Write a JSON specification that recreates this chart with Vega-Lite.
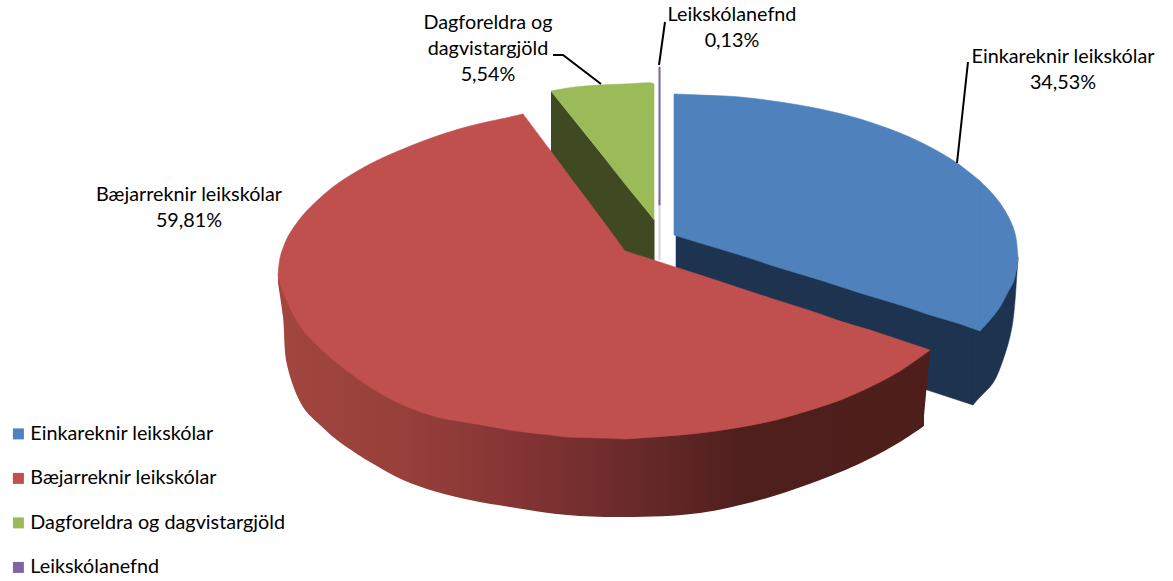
{"$schema":"https://vega.github.io/schema/vega-lite/v6.json","width":1173,"height":581,"autosize":{"type":"fit","contains":"padding"},"padding":0,"background":"white","config":{"view":{"stroke":null},"text":{"font":"Lato"}},
"datasets":{
"walls":[
{"part":"green","seg":"g","x":551,"top":91,"bottom":262},{"part":"green","seg":"g","x":654.5,"top":220,"bottom":262},
{"part":"purple","seg":"p","x":658.5,"top":200,"bottom":260},{"part":"purple","seg":"p","x":660.5,"top":200,"bottom":260},
{"part":"redend","seg":"re","x":923,"top":350,"bottom":427},{"part":"redend","seg":"re","x":930,"top":350,"bottom":350},
{"part":"blue","seg":"bl","x":676,"top":230,"bottom":308},{"part":"blue","seg":"bl","x":973,"top":320,"bottom":405},
{"part":"blue","seg":"br","x":973,"top":320,"bottom":405},{"part":"blue","seg":"br","x":980,"top":320,"bottom":397},{"part":"blue","seg":"br","x":993,"top":310,"bottom":383},{"part":"blue","seg":"br","x":1003,"top":298,"bottom":360},{"part":"blue","seg":"br","x":1012,"top":280,"bottom":327},{"part":"blue","seg":"br","x":1017,"top":268,"bottom":273},{"part":"blue","seg":"br","x":1018,"top":257,"bottom":257},
{"part":"red","seg":"r","x":278,"top":276,"bottom":283},{"part":"red","seg":"r","x":283,"top":287,"bottom":317},{"part":"red","seg":"r","x":287,"top":297,"bottom":365},{"part":"red","seg":"r","x":303,"top":327,"bottom":407},{"part":"red","seg":"r","x":320,"top":345,"bottom":425},{"part":"red","seg":"r","x":337,"top":360,"bottom":440},{"part":"red","seg":"r","x":370,"top":384,"bottom":462},{"part":"red","seg":"r","x":403,"top":402,"bottom":480},{"part":"red","seg":"r","x":437,"top":414,"bottom":492},{"part":"red","seg":"r","x":470,"top":420,"bottom":500},{"part":"red","seg":"r","x":510,"top":427,"bottom":507},{"part":"red","seg":"r","x":567,"top":434,"bottom":515},{"part":"red","seg":"r","x":625,"top":436,"bottom":517},{"part":"red","seg":"r","x":700,"top":430,"bottom":513},{"part":"red","seg":"r","x":767,"top":419,"bottom":498},{"part":"red","seg":"r","x":833,"top":400,"bottom":475},{"part":"red","seg":"r","x":867,"top":385,"bottom":460},{"part":"red","seg":"r","x":900,"top":368,"bottom":442},{"part":"red","seg":"r","x":924,"top":350,"bottom":426}
],
"faces":[
{"slice":"Dagforeldra og dagvistargjöld","seg":"g","x":551,"top":91,"bottom":91},{"slice":"Dagforeldra og dagvistargjöld","seg":"g","x":575,"top":87,"bottom":121},{"slice":"Dagforeldra og dagvistargjöld","seg":"g","x":600,"top":85,"bottom":152},{"slice":"Dagforeldra og dagvistargjöld","seg":"g","x":625,"top":84,"bottom":184},{"slice":"Dagforeldra og dagvistargjöld","seg":"g","x":652,"top":83,"bottom":217},{"slice":"Dagforeldra og dagvistargjöld","seg":"g","x":654,"top":84,"bottom":220},
{"slice":"Leikskólanefnd","seg":"p","x":658.8,"top":67,"bottom":205},{"slice":"Leikskólanefnd","seg":"p","x":660.2,"top":67,"bottom":205},
{"slice":"Einkareknir leikskólar","seg":"b1","x":674,"top":94,"bottom":235},{"slice":"Einkareknir leikskólar","seg":"b1","x":700,"top":95,"bottom":243},{"slice":"Einkareknir leikskólar","seg":"b1","x":740,"top":97,"bottom":255},{"slice":"Einkareknir leikskólar","seg":"b1","x":780,"top":102,"bottom":268},{"slice":"Einkareknir leikskólar","seg":"b1","x":820,"top":109,"bottom":280},{"slice":"Einkareknir leikskólar","seg":"b1","x":860,"top":119,"bottom":293},{"slice":"Einkareknir leikskólar","seg":"b1","x":900,"top":133,"bottom":305},{"slice":"Einkareknir leikskólar","seg":"b1","x":930,"top":147,"bottom":315},{"slice":"Einkareknir leikskólar","seg":"b1","x":957,"top":163,"bottom":323},{"slice":"Einkareknir leikskólar","seg":"b1","x":980,"top":181,"bottom":331},
{"slice":"Einkareknir leikskólar","seg":"b2","x":980,"top":181,"bottom":331},{"slice":"Einkareknir leikskólar","seg":"b2","x":990,"top":191,"bottom":320},{"slice":"Einkareknir leikskólar","seg":"b2","x":1000,"top":203,"bottom":307},{"slice":"Einkareknir leikskólar","seg":"b2","x":1008,"top":216,"bottom":292},{"slice":"Einkareknir leikskólar","seg":"b2","x":1013,"top":227,"bottom":283},{"slice":"Einkareknir leikskólar","seg":"b2","x":1016,"top":238,"bottom":272},{"slice":"Einkareknir leikskólar","seg":"b2","x":1018,"top":257,"bottom":257},
{"slice":"Bæjarreknir leikskólar","seg":"r1","x":278,"top":276,"bottom":276},{"slice":"Bæjarreknir leikskólar","seg":"r1","x":280,"top":258,"bottom":283},{"slice":"Bæjarreknir leikskólar","seg":"r1","x":285,"top":243,"bottom":297},{"slice":"Bæjarreknir leikskólar","seg":"r1","x":290,"top":233,"bottom":308},{"slice":"Bæjarreknir leikskólar","seg":"r1","x":303,"top":215,"bottom":330},{"slice":"Bæjarreknir leikskólar","seg":"r1","x":320,"top":198,"bottom":348},{"slice":"Bæjarreknir leikskólar","seg":"r1","x":337,"top":184,"bottom":363},{"slice":"Bæjarreknir leikskólar","seg":"r1","x":370,"top":164,"bottom":387},{"slice":"Bæjarreknir leikskólar","seg":"r1","x":403,"top":149,"bottom":405},{"slice":"Bæjarreknir leikskólar","seg":"r1","x":437,"top":136,"bottom":417},{"slice":"Bæjarreknir leikskólar","seg":"r1","x":470,"top":126,"bottom":423},{"slice":"Bæjarreknir leikskólar","seg":"r1","x":510,"top":117,"bottom":430},{"slice":"Bæjarreknir leikskólar","seg":"r1","x":523,"top":114,"bottom":432},
{"slice":"Bæjarreknir leikskólar","seg":"r2","x":523,"top":114,"bottom":432},{"slice":"Bæjarreknir leikskólar","seg":"r2","x":550,"top":150,"bottom":435},{"slice":"Bæjarreknir leikskólar","seg":"r2","x":567,"top":173,"bottom":437},{"slice":"Bæjarreknir leikskólar","seg":"r2","x":600,"top":217,"bottom":438},{"slice":"Bæjarreknir leikskólar","seg":"r2","x":625,"top":251,"bottom":439},
{"slice":"Bæjarreknir leikskólar","seg":"r3","x":625,"top":251,"bottom":439},{"slice":"Bæjarreknir leikskólar","seg":"r3","x":700,"top":275,"bottom":433},{"slice":"Bæjarreknir leikskólar","seg":"r3","x":767,"top":297,"bottom":422},{"slice":"Bæjarreknir leikskólar","seg":"r3","x":817,"top":313,"bottom":408},{"slice":"Bæjarreknir leikskólar","seg":"r3","x":843,"top":322,"bottom":399},{"slice":"Bæjarreknir leikskólar","seg":"r3","x":870,"top":330,"bottom":387},{"slice":"Bæjarreknir leikskólar","seg":"r3","x":900,"top":340,"bottom":371},{"slice":"Bæjarreknir leikskólar","seg":"r3","x":930,"top":350,"bottom":350}
],
"leaders":[
{"leader":"a","x":968,"y":62},{"leader":"a","x":957,"y":163},
{"leader":"b","x":553,"y":55},{"leader":"b","x":563,"y":55},{"leader":"b","x":601,"y":84},
{"leader":"c","x":665,"y":22},{"leader":"c","x":659,"y":65}
],
"labels":[
{"label":"Einkareknir leikskólar\n34,53%","x":1063,"y":57},
{"label":"Bæjarreknir leikskólar\n59,81%","x":189,"y":195},
{"label":"Dagforeldra og\ndagvistargjöld\n5,54%","x":488,"y":23},
{"label":"Leikskólanefnd\n0,13%","x":732,"y":15}
]},
"encoding":{
"x":{"field":"x","type":"quantitative","scale":{"domain":[0,1173],"nice":false,"zero":false},"axis":null},
"y":{"field":"top","type":"quantitative","scale":{"domain":[581,0],"nice":false,"zero":false},"axis":null},
"y2":{"field":"bottom"}},
"layer":[
{"data":{"name":"walls"},"transform":[{"filter":"datum.part==='green'"}],"mark":{"type":"area","color":"#3f4a22"}},
{"data":{"name":"walls"},"transform":[{"filter":"datum.part==='purple'"}],"mark":{"type":"area","color":"#d5cde2"}},
{"data":{"name":"walls"},"transform":[{"filter":"datum.part==='blue'"}],"mark":{"type":"area","color":"#1e3350","stroke":"#1e3350","strokeWidth":0.5,"interpolate":"catmull-rom"},"encoding":{"detail":{"field":"seg"}}},
{"data":{"name":"walls"},"transform":[{"filter":"datum.part==='redend'"}],"mark":{"type":"area","color":"#4e1e1b"}},
{"data":{"name":"walls"},"transform":[{"filter":"datum.part==='red'"}],"mark":{"type":"area","interpolate":"catmull-rom","color":{"gradient":"linear","x1":0,"y1":0,"x2":1,"y2":0,"stops":[{"offset":0,"color":"#a2463f"},{"offset":0.2,"color":"#973f3a"},{"offset":0.36,"color":"#853534"},{"offset":0.55,"color":"#692a2a"},{"offset":0.72,"color":"#4f1f1d"},{"offset":1,"color":"#4e1e1b"}]}}},
{"data":{"name":"faces"},"mark":{"type":"area","interpolate":"catmull-rom","strokeWidth":0.6},"encoding":{"detail":{"field":"seg"},"stroke":{"field":"slice","type":"nominal","legend":null,"scale":{"domain":["Einkareknir leikskólar","Bæjarreknir leikskólar","Dagforeldra og dagvistargjöld","Leikskólanefnd"],"range":["#4f81bd","#c0504d","#9bbb59","#8064a2"]}},"color":{"field":"slice","type":"nominal","scale":{"domain":["Einkareknir leikskólar","Bæjarreknir leikskólar","Dagforeldra og dagvistargjöld","Leikskólanefnd"],"range":["#4f81bd","#c0504d","#9bbb59","#8064a2"]},"legend":{"title":null,"orient":"none","legendX":8.5,"legendY":424,"symbolType":"square","symbolSize":121,"symbolStrokeWidth":0,"labelFont":"Lato","labelFontSize":19.8,"labelColor":"#000000","rowPadding":23.5,"labelOffset":2,"labelLimit":400,"padding":0}}}},
{"data":{"name":"leaders"},"mark":{"type":"line","color":"#000000","strokeWidth":2},"encoding":{"y":{"field":"y","type":"quantitative"},"y2":null,"detail":{"field":"leader"},"order":{"field":"y"}}},
{"data":{"name":"labels"},"mark":{"type":"text","fontSize":19.8,"lineHeight":26,"lineBreak":"\n","align":"center","baseline":"middle","color":"#000000"},"encoding":{"y":{"field":"y","type":"quantitative"},"y2":null,"text":{"field":"label"}}}
]}
